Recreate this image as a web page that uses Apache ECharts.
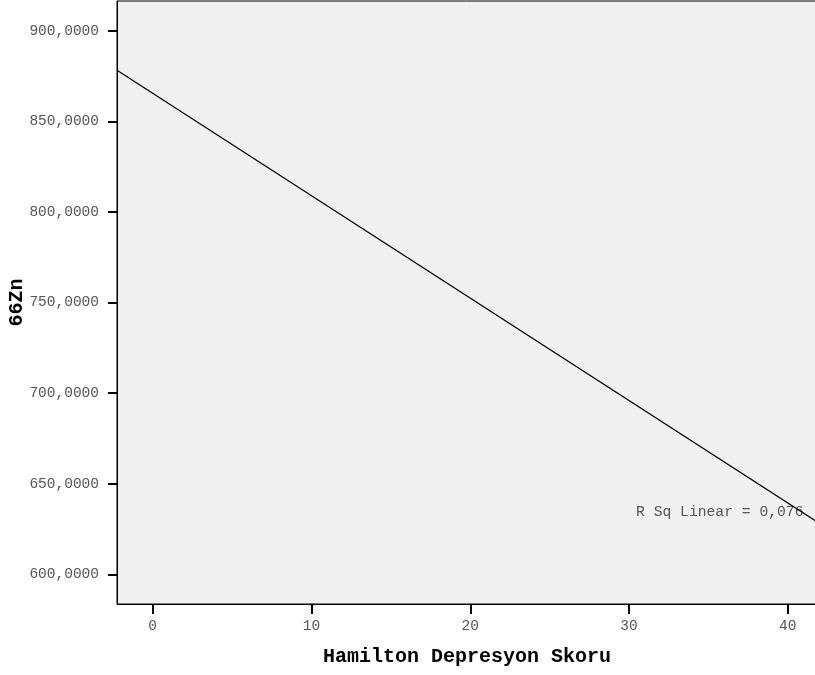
<!DOCTYPE html>
<html>
<head>
<meta charset="utf-8">
<script src="https://cdn.jsdelivr.net/npm/echarts@6/dist/echarts.min.js"></script>
<style>html,body{margin:0;padding:0;background:#fff}#c{width:815px;height:675px}</style>
</head>
<body>
<div id="c"></div>
<script>
// Fit line endpoints (x: Hamilton score, y: 66Zn)
var lineX = [-2.25, 41.84];
var lineY = [878.2, 629.1];
// Axis ticks
var xTicks = [0, 10, 20, 30, 40];
var yTicks = [600, 650, 700, 750, 800, 850, 900];
var xRange = [-2.25, 41.84];
var yRange = [583.7, 916.4];
var rSqText = 'R Sq Linear = 0,076';
var xTitle = 'Hamilton Depresyon Skoru';
var yTitle = '66Zn';

var FONT = '"Liberation Mono", "Courier New", monospace';
var chart = echarts.init(document.getElementById('c'), null, {renderer: 'canvas'});
chart.setOption({
  animation: false,
  grid: {
    left: 117, top: 1, right: -2, bottom: 71,
    outerBoundsMode: 'none', containLabel: false,
    show: true, backgroundColor: '#f0f0f0', borderColor: '#000', borderWidth: 1
  },
  xAxis: {
    type: 'value', min: xRange[0], max: xRange[1],
    name: xTitle, nameLocation: 'middle', nameGap: 43, nameMoveOverlap: false,
    nameTextStyle: {fontFamily: FONT, fontWeight: 'bold', fontSize: 20, color: '#000'},
    axisLine: {show: true, onZero: false, lineStyle: {color: '#000', width: 1}},
    axisTick: {show: true, length: 10, lineStyle: {color: '#000', width: 2}, customValues: xTicks},
    axisLabel: {customValues: xTicks, margin: 15, fontFamily: FONT, fontSize: 14.5, color: '#555',
      formatter: function (v) { return String(v); }},
    splitLine: {show: false}
  },
  yAxis: {
    type: 'value', min: yRange[0], max: yRange[1],
    name: yTitle, nameLocation: 'middle', nameGap: 90, nameRotate: 90, nameMoveOverlap: false,
    nameTextStyle: {fontFamily: FONT, fontWeight: 'bold', fontSize: 20, color: '#000'},
    axisLine: {show: true, onZero: false, lineStyle: {color: '#000', width: 1}},
    axisTick: {show: true, length: 9, lineStyle: {color: '#000', width: 2}, customValues: yTicks},
    axisLabel: {customValues: yTicks, margin: 18, fontFamily: FONT, fontSize: 14.5, color: '#555',
      formatter: function (v) { return v.toFixed(4).replace('.', ','); }},
    splitLine: {show: false}
  },
  series: [{
    type: 'line',
    data: lineX.map(function (x, i) { return [x, lineY[i]]; }),
    showSymbol: false, symbol: 'none',
    lineStyle: {color: '#000', width: 1.2},
    clip: true,
    silent: true
  }],
  graphic: [{
    type: 'text', left: 636, top: 505,
    style: {text: rSqText, font: '14.7px ' + FONT, fill: '#555'}
  }]
});
</script>
</body>
</html>
